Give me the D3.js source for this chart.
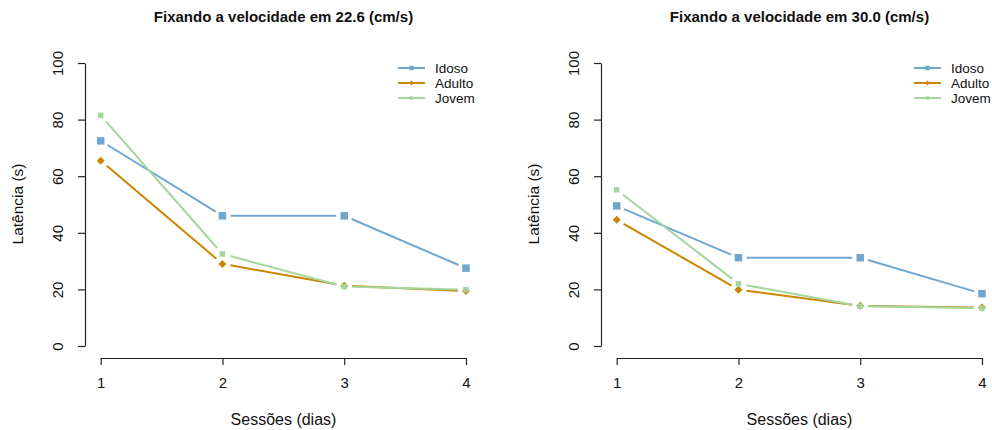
<!DOCTYPE html>
<html><head>
<meta charset="utf-8">
<script src="https://d3js.org/d3.v7.min.js"></script>
<style>
  body { margin: 0; background: #fff; }
  svg text { font-family: "Liberation Sans", Arial, sans-serif; fill: #111; }
  .axis path, .axis line { stroke: #222; stroke-width: 1.2; }
  .axis text { font-size: 15px; }
</style>
</head>
<body>
<svg id="chart" width="992" height="430"></svg>
<script>
// data
const sessions = [1, 2, 3, 4];
const groups = ["Idoso", "Adulto", "Jovem"];
const yTicks = [0, 20, 40, 60, 80, 100];

const vel226Idoso  = [72.5, 46, 46, 27.5];
const vel226Adulto = [65.5, 29, 21.3, 19.4];
const vel226Jovem  = [81.5, 32.5, 21, 19.9];

const vel300Idoso  = [49.5, 31.2, 31.2, 18.5];
const vel300Adulto = [44.6, 19.9, 14.2, 13.6];
const vel300Jovem  = [55.2, 22, 14.1, 13.4];

const colors = {Idoso: "#6fa7d1", Adulto: "#cc8502", Jovem: "#a3d69d"};

const svg = d3.select("#chart");

// panel layout (left panel; right one is shifted)
const panelShift = 516;

function drawPanel(offset, title, series) {
  const g = svg.append("g").attr("transform", "translate(" + offset + ",0)");

  const x = d3.scaleLinear().domain([1, 4]).range([100.7, 466]);
  const y = d3.scaleLinear().domain([0, 100]).range([346, 63]);

  // title
  g.append("text")
    .attr("x", 283.5).attr("y", 22)
    .attr("text-anchor", "middle")
    .style("font-size", "15px").style("font-weight", "bold")
    .text(title);

  // y axis
  const yAxis = g.append("g").attr("class", "axis")
    .attr("transform", "translate(85,0)")
    .call(d3.axisLeft(y).tickValues(yTicks).tickSize(7).tickSizeOuter(0).tickPadding(0));
  yAxis.selectAll(".tick text")
    .attr("x", null).attr("dy", null)
    .attr("text-anchor", "middle")
    .attr("transform", "translate(-27,0) rotate(-90)")
    .attr("dy", "0.36em");

  // x axis
  g.append("g").attr("class", "axis")
    .attr("transform", "translate(0,358)")
    .call(d3.axisBottom(x).tickValues(sessions).tickFormat(d3.format("d")).tickSize(7).tickSizeOuter(0).tickPadding(12));

  // axis titles
  g.append("text")
    .attr("x", 283.5).attr("y", 425)
    .attr("text-anchor", "middle")
    .style("font-size", "16px")
    .text("Sessões (dias)");
  g.append("text")
    .attr("transform", "translate(23,204) rotate(-90)")
    .attr("text-anchor", "middle")
    .style("font-size", "15.5px")
    .text("Latência (s)");

  // lines (type "b": gaps around points)
  const gap = 8;
  series.forEach(s => {
    const pts = sessions.map((d, i) => [x(d), y(s.values[i])]);
    for (let i = 0; i < pts.length - 1; i++) {
      const [x0, y0] = pts[i], [x1, y1] = pts[i + 1];
      const len = Math.hypot(x1 - x0, y1 - y0);
      const ux = (x1 - x0) / len, uy = (y1 - y0) / len;
      g.append("line")
        .attr("x1", x0 + ux * gap).attr("y1", y0 + uy * gap)
        .attr("x2", x1 - ux * gap).attr("y2", y1 - uy * gap)
        .attr("stroke", colors[s.name]).attr("stroke-width", 2);
    }
    pts.forEach(p => drawMarker(g, s.name, p[0], p[1], 1));
  });

  // legend
  groups.forEach((name, i) => {
    const ly = 68 + i * 15;
    g.append("line")
      .attr("x1", 398).attr("x2", 425).attr("y1", ly).attr("y2", ly)
      .attr("stroke", colors[name]).attr("stroke-width", 2);
    drawMarker(g, name, 411.5, ly, 0.6);
    g.append("text")
      .attr("x", 435).attr("y", ly).attr("dy", "0.35em")
      .style("font-size", "13.5px")
      .text(name);
  });
}

function drawMarker(g, name, cx, cy, k) {
  if (name === "Idoso") {
    const s = 7.5 * k;
    g.append("rect").attr("x", cx - s / 2).attr("y", cy - s / 2)
      .attr("width", s).attr("height", s).attr("fill", colors[name]);
  } else if (name === "Adulto") {
    const r = 4 * k;
    g.append("path")
      .attr("d", `M${cx},${cy - r}L${cx + r},${cy}L${cx},${cy + r}L${cx - r},${cy}Z`)
      .attr("fill", colors[name]);
  } else {
    const s = 5.5 * k;
    g.append("rect").attr("x", cx - s / 2).attr("y", cy - s / 2)
      .attr("width", s).attr("height", s).attr("fill", colors[name]);
  }
}

drawPanel(0, "Fixando a velocidade em 22.6 (cm/s)", [
  {name: "Idoso", values: vel226Idoso},
  {name: "Adulto", values: vel226Adulto},
  {name: "Jovem", values: vel226Jovem}
]);
drawPanel(panelShift, "Fixando a velocidade em 30.0 (cm/s)", [
  {name: "Idoso", values: vel300Idoso},
  {name: "Adulto", values: vel300Adulto},
  {name: "Jovem", values: vel300Jovem}
]);
</script>
</body>
</html>
